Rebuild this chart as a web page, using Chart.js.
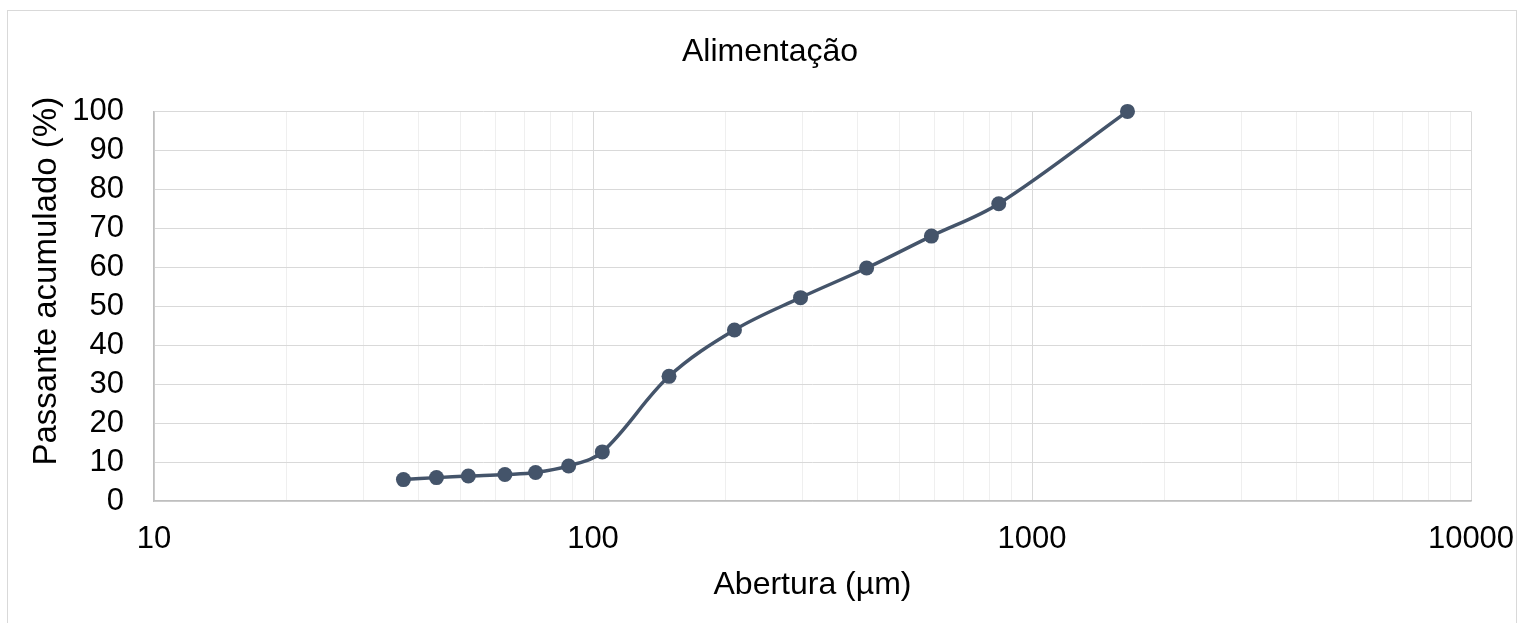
<!DOCTYPE html>
<html>
<head>
<meta charset="utf-8">
<script src="https://cdn.jsdelivr.net/npm/chart.js@4"></script>
<style>
  html, body { margin: 0; padding: 0; background: #ffffff; }
  #wrap { position: relative; width: 1523px; height: 623px; }
</style>
</head>
<body>
<div id="wrap"><canvas id="chart" width="1523" height="623"></canvas></div>
<script>
// Sieve openings (µm) and cumulative passing (%) of the feed sample
const aberturas = [37, 44, 52, 63, 74, 88, 105, 149, 210, 297, 420, 590, 840, 1650];
const passante = [5.5, 6.0, 6.4, 6.8, 7.3, 9.0, 12.6, 32.0, 43.9, 52.2, 59.8, 68.0, 76.3, 100];

// Axis labels and ranges
const xTickLabels = [10, 100, 1000, 10000];
const yTicks = [0, 10, 20, 30, 40, 50, 60, 70, 80, 90, 100];
const yTitle = 'Passante acumulado (%)';

const FONT = "'Liberation Sans', Arial, sans-serif";
const lineColor = '#44546a';

// Light frame around the whole chart, plus the vertical axis title
const framePlugin = {
  id: 'frame',
  beforeDraw(chart) {
    const ctx = chart.ctx;
    ctx.save();
    ctx.strokeStyle = '#d9d9d9';
    ctx.lineWidth = 1;
    ctx.strokeRect(7.5, 10.5, 1509, 700);
    ctx.restore();
  },
  afterDraw(chart) {
    const ctx = chart.ctx;
    const area = chart.chartArea;
    ctx.save();
    ctx.translate(47, (area.top + area.bottom) / 2 - 25);
    ctx.rotate(-Math.PI / 2);
    ctx.fillStyle = '#000000';
    ctx.font = '33px ' + FONT;
    ctx.textAlign = 'center';
    ctx.textBaseline = 'middle';
    ctx.fillText(yTitle, 0, 0);
    ctx.restore();
  }
};

const isDecade = v => Math.abs(Math.log10(v) - Math.round(Math.log10(v))) < 1e-9;

new Chart(document.getElementById('chart'), {
  type: 'line',
  data: {
    datasets: [{
      data: aberturas.map((x, i) => ({ x: x, y: passante[i] })),
      borderColor: lineColor,
      backgroundColor: lineColor,
      borderWidth: 3.5,
      pointRadius: 7.5,
      pointHoverRadius: 7.5,
      pointBackgroundColor: lineColor,
      pointBorderWidth: 0,
      tension: 0.35,
      fill: false,
      clip: false
    }]
  },
  options: {
    responsive: false,
    animation: false,
    devicePixelRatio: 1,
    layout: { padding: { left: 17, right: 0, top: 0, bottom: 0 } },
    plugins: {
      legend: { display: false },
      tooltip: { enabled: false },
      title: {
        display: true,
        text: 'Alimentação',
        color: '#000000',
        font: { family: FONT, size: 32, weight: 'normal' },
        padding: { top: 33, bottom: 40 }
      }
    },
    scales: {
      x: {
        type: 'logarithmic',
        min: 10,
        max: 10000,
        afterBuildTicks(scale) {
          const ticks = [];
          for (let p = 1; p <= 4; p++) {
            for (let m = 1; m <= 9; m++) {
              const v = m * Math.pow(10, p);
              if (v <= 10000) ticks.push({ value: v });
            }
          }
          scale.ticks = ticks;
        },
        afterFit(scale) {
          scale.height = 122;
          scale.paddingLeft = 0;
          scale.paddingRight = 52;
        },
        ticks: {
          autoSkip: false,
          maxRotation: 0,
          color: '#000000',
          padding: 20,
          font: { family: FONT, size: 31 },
          callback(value) {
            return xTickLabels.includes(value) ? String(value) : '';
          }
        },
        grid: {
          drawTicks: false,
          color: ctx => (ctx.tick && isDecade(ctx.tick.value)) ? '#d9d9d9' : '#efefef',
          lineWidth: 1
        },
        border: { color: '#bfbfbf', width: 1.5 },
        title: {
          display: true,
          text: 'Abertura (µm)',
          color: '#000000',
          font: { family: FONT, size: 32 },
          padding: { top: 0, bottom: 19 }
        }
      },
      y: {
        min: 0,
        max: 100,
        afterBuildTicks(scale) {
          scale.ticks = yTicks.map(v => ({ value: v }));
        },
        afterFit(scale) {
          scale.width = 154 - 17;
          scale.paddingTop = 0;
          scale.paddingBottom = 0;
        },
        ticks: {
          autoSkip: false,
          color: '#000000',
          padding: 30,
          font: { family: FONT, size: 31 }
        },
        grid: {
          drawTicks: false,
          color: '#d9d9d9',
          lineWidth: 1
        },
        border: { color: '#bfbfbf', width: 1.5 }
      }
    }
  },
  plugins: [framePlugin]
});
</script>
</body>
</html>
